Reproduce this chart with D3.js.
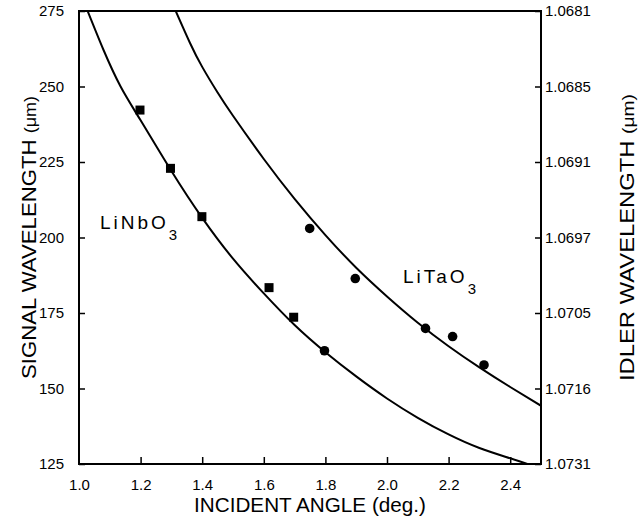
<!DOCTYPE html>
<html>
<head>
<meta charset="utf-8">
<script src="https://cdn.jsdelivr.net/npm/d3@7"></script>
<style>
  html, body { margin: 0; padding: 0; background: #fff; }
  svg { display: block; }
  .tick-label { font-family: "Liberation Sans", Arial, sans-serif; font-size: 15px; fill: #000; }
  .title { font-family: "Liberation Sans Narrow", "Arial Narrow", "Liberation Sans", Arial, sans-serif; font-size: 21px; fill: #000; }
  .crystal { font-family: "Liberation Sans Narrow", "Liberation Sans", Arial, sans-serif; font-size: 19px; fill: #000; letter-spacing: 3px; }
</style>
</head>
<body>
<svg id="chart" width="639" height="524"></svg>
<script>
// Incident angle (deg.) ticks and signal wavelength (µm) ticks
const angleTicks = [1.0, 1.2, 1.4, 1.6, 1.8, 2.0, 2.2, 2.4];
const signalTicks = [275, 250, 225, 200, 175, 150, 125];
// Idler wavelength (µm) labels matching each signal tick
const idlerLabels = ["1.0681", "1.0685", "1.0691", "1.0697", "1.0705", "1.0716", "1.0731"];

// Measured points, LiNbO3
const nbAngle  = [1.198, 1.297, 1.399, 1.617, 1.697, 1.797];
const nbSignal = [242.2, 222.9, 206.9, 183.4, 173.6, 162.5];
const nbShape  = ["square", "square", "square", "square", "square", "circle"];

// Measured points, LiTaO3
const taAngle  = [1.749, 1.897, 2.125, 2.213, 2.315];
const taSignal = [203.0, 186.4, 169.9, 167.2, 157.8];

// Calculated tuning curves
const nbCurveAngle  = [1.028, 1.08, 1.135, 1.2, 1.3, 1.4, 1.5, 1.6, 1.7, 1.8, 1.9, 2.0, 2.1, 2.2, 2.3, 2.4, 2.47];
const nbCurveSignal = [275, 262, 250, 238.8, 222, 206.5, 193, 181.5, 171, 162, 154, 146.7, 140.3, 134.8, 130.3, 126.9, 124.5];
const taCurveAngle  = [1.314, 1.36, 1.4, 1.45, 1.5, 1.6, 1.7, 1.8, 1.9, 2.0, 2.1, 2.2, 2.3, 2.4, 2.5];
const taCurveSignal = [275, 264.5, 256.5, 248, 240.3, 226, 212.8, 200.8, 190, 180.5, 171.8, 164, 157, 150.5, 144.3];

const svg = d3.select("#chart");
const plotL = 79, plotR = 541, plotT = 11, plotB = 464;

const x = d3.scaleLinear().domain([1.0, 2.5]).range([plotL, plotR]);
const y = d3.scaleLinear().domain([125, 275]).range([plotB, plotT]);

// Clip for curves
svg.append("clipPath").attr("id", "plot-clip")
  .append("rect").attr("x", plotL).attr("y", plotT).attr("width", plotR - plotL).attr("height", plotB - plotT);

// Frame
svg.append("rect")
  .attr("x", plotL).attr("y", plotT).attr("width", plotR - plotL).attr("height", plotB - plotT)
  .attr("fill", "none").attr("stroke", "#000").attr("stroke-width", 2);

// Left axis (inward ticks)
const leftAxis = d3.axisLeft(y).tickValues(signalTicks).tickSize(-6).tickPadding(15).tickFormat(d3.format("d"));
const gL = svg.append("g").attr("transform", `translate(${plotL},0)`).call(leftAxis);

// Bottom axis (inward ticks)
const bottomAxis = d3.axisBottom(x).tickValues(angleTicks).tickSize(-7).tickPadding(15).tickFormat(d3.format(".1f"));
const gB = svg.append("g").attr("transform", `translate(0,${plotB})`).call(bottomAxis);

// Right axis: idler wavelength labels at the signal tick positions
const rightAxis = d3.axisRight(y).tickValues(signalTicks).tickSize(-6).tickPadding(4)
  .tickFormat((d, i) => idlerLabels[i]);
const gR = svg.append("g").attr("transform", `translate(${plotR},0)`).call(rightAxis);

[gL, gB, gR].forEach(g => {
  g.select(".domain").remove();
  g.selectAll(".tick line").attr("stroke", "#000").attr("stroke-width", 1.5);
  g.selectAll(".tick text").attr("class", "tick-label").attr("fill", "#000");
});
gB.selectAll(".tick").filter(d => d === 1.0).select("line").remove();

// Curves
const line = d3.line().x(d => x(d[0])).y(d => y(d[1])).curve(d3.curveNatural);
const curves = svg.append("g").attr("clip-path", "url(#plot-clip)");
curves.append("path")
  .datum(d3.zip(nbCurveAngle, nbCurveSignal))
  .attr("d", line).attr("fill", "none").attr("stroke", "#000").attr("stroke-width", 2);
curves.append("path")
  .datum(d3.zip(taCurveAngle, taCurveSignal))
  .attr("d", line).attr("fill", "none").attr("stroke", "#000").attr("stroke-width", 2);

// Markers
const nbPts = d3.zip(nbAngle, nbSignal, nbShape);
svg.append("g").selectAll("rect").data(nbPts.filter(d => d[2] === "square")).join("rect")
  .attr("x", d => x(d[0]) - 4.5).attr("y", d => y(d[1]) - 4.5)
  .attr("width", 9).attr("height", 9).attr("fill", "#000");
svg.append("g").selectAll("circle").data(nbPts.filter(d => d[2] === "circle")).join("circle")
  .attr("cx", d => x(d[0])).attr("cy", d => y(d[1])).attr("r", 4.8).attr("fill", "#000");
svg.append("g").selectAll("circle").data(d3.zip(taAngle, taSignal)).join("circle")
  .attr("cx", d => x(d[0])).attr("cy", d => y(d[1])).attr("r", 4.8).attr("fill", "#000");

// Crystal labels
function crystalLabel(tx, ty, base) {
  const t = svg.append("text").attr("class", "crystal").attr("x", tx).attr("y", ty);
  t.append("tspan").text(base);
  t.append("tspan").attr("dy", 11).attr("font-size", "15px").text("3");
}
crystalLabel(100, 229, "LiNbO");
crystalLabel(403, 283, "LiTaO");

// Axis titles
svg.append("text").attr("class", "title")
  .attr("x", (plotL + plotR) / 2).attr("y", 512)
  .attr("text-anchor", "middle")
  .attr("textLength", 232).attr("lengthAdjust", "spacingAndGlyphs")
  .text("INCIDENT ANGLE (deg.)");

const lt = svg.append("text").attr("class", "title")
  .attr("transform", `translate(36,${(plotT + plotB) / 2}) rotate(-90)`)
  .attr("text-anchor", "middle")
  .attr("textLength", 283).attr("lengthAdjust", "spacingAndGlyphs");
lt.append("tspan").text("SIGNAL WAVELENGTH ");
lt.append("tspan").attr("font-size", "17px").text("(\u03bcm)");

const rt = svg.append("text").attr("class", "title")
  .attr("transform", `translate(634,${(plotT + plotB) / 2}) rotate(-90)`)
  .attr("text-anchor", "middle")
  .attr("textLength", 287).attr("lengthAdjust", "spacingAndGlyphs");
rt.append("tspan").text("IDLER WAVELENGTH ");
rt.append("tspan").attr("font-size", "17px").text("(\u03bcm)");
</script>
</body>
</html>
